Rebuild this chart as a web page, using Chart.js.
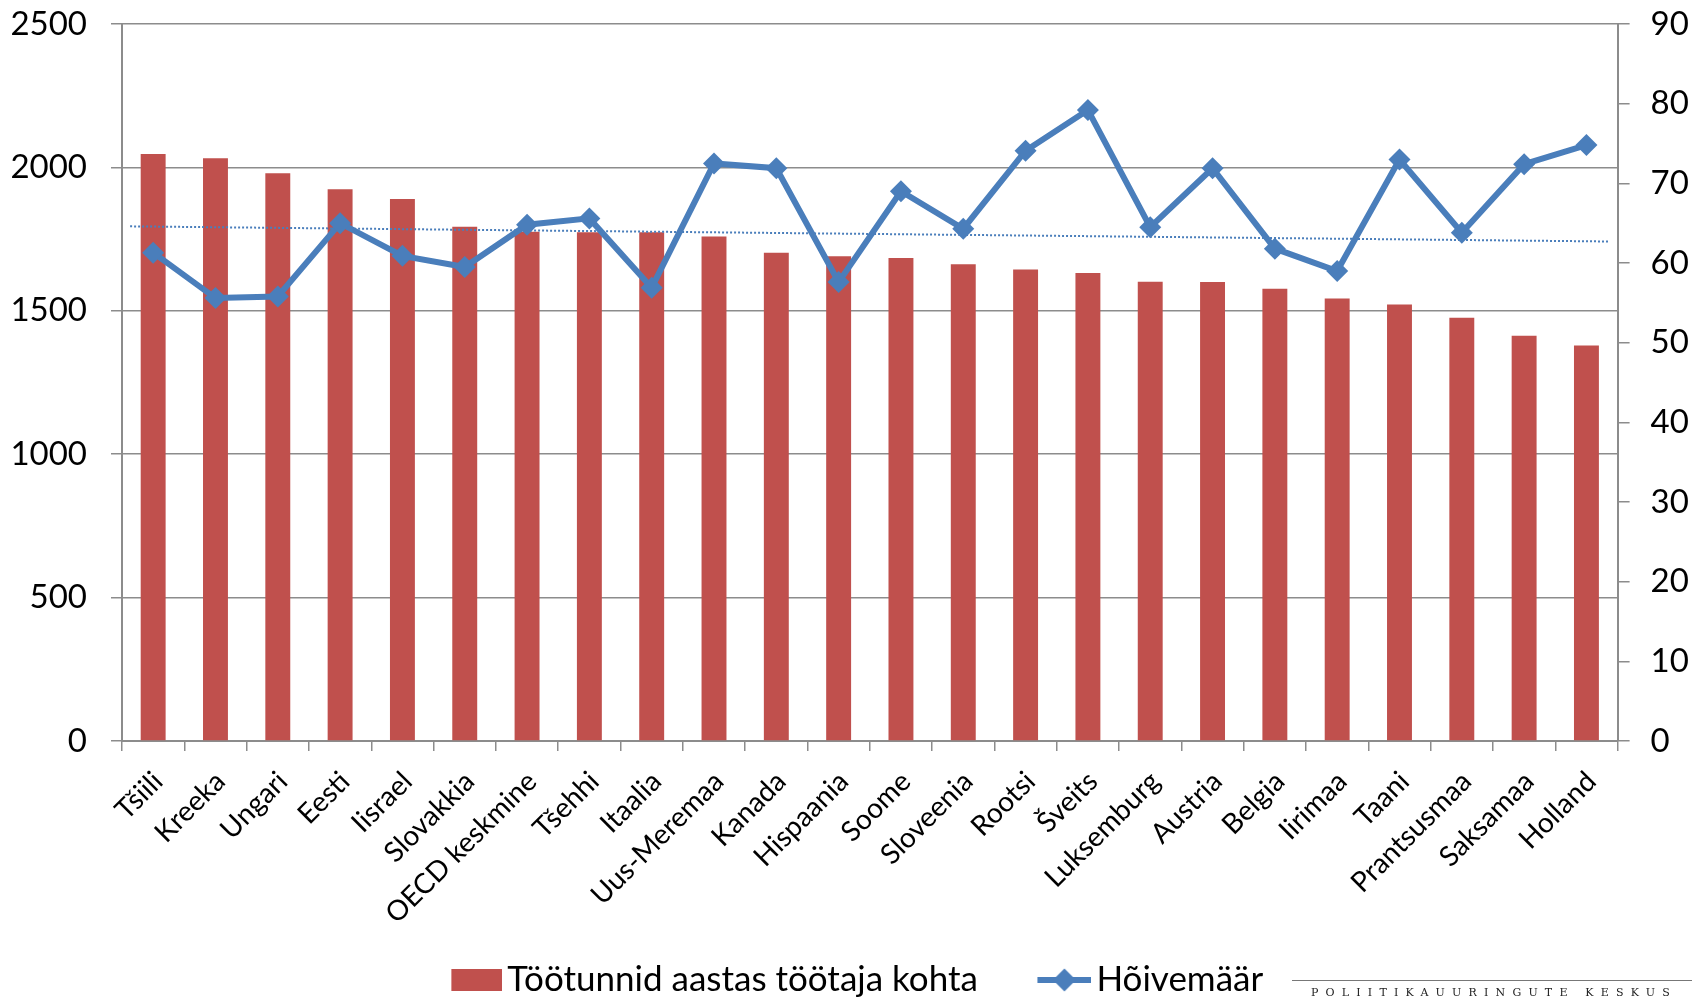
<!DOCTYPE html>
<html>
<head>
<meta charset="utf-8">
<script src="https://cdn.jsdelivr.net/npm/chart.js@4.4.1/dist/chart.umd.min.js"></script>
<style>
  html, body { margin: 0; padding: 0; background: #fff; }
  #wrap { position: relative; width: 1692px; height: 997px; overflow: hidden; }
  #brand {
    position: absolute; left: 1292px; top: 980px; width: 400px; height: 20px;
    border-top: 1px solid #777;
    font-family: 'DejaVu Serif', 'Liberation Serif', serif; font-size: 11px;
    letter-spacing: 7.2px; color: #222; padding-left: 19px; padding-top: 5px;
    box-sizing: border-box; white-space: nowrap;
  }
</style>
</head>
<body>
<div id="wrap">
  <canvas id="chart" width="1692" height="997"></canvas>
  <div id="brand">POLIITIKAUURINGUTE KESKUS</div>
</div>
<script>
var countries = ['Tšiili', 'Kreeka', 'Ungari', 'Eesti', 'Iisrael', 'Slovakkia', 'OECD keskmine', 'Tšehhi',
    'Itaalia', 'Uus-Meremaa', 'Kanada', 'Hispaania', 'Soome', 'Sloveenia', 'Rootsi', 'Šveits',
    'Luksemburg', 'Austria', 'Belgia', 'Iirimaa', 'Taani', 'Prantsusmaa', 'Saksamaa', 'Holland']

// töötunnid aastas (vasak telg)
var hours = [2047, 2032, 1980, 1924, 1890, 1793, 1776, 1774,
    1774, 1759, 1702, 1690, 1684, 1662, 1644, 1632,
    1601, 1600, 1577, 1543, 1522, 1476, 1413, 1379]

// hõivemäär % (parem telg)
var employment = [61.3, 55.6, 55.8, 65.0, 60.9, 59.5, 64.8, 65.6,
    56.9, 72.5, 71.9, 57.6, 69.0, 64.3, 74.1, 79.2,
    64.5, 71.9, 61.8, 59.0, 73.0, 63.8, 72.4, 74.8]

// trendijoone otspunktid (kategooria indeks, väärtus)
var trendX = [-0.37, 23.35]
var trendY = [64.6, 62.7]

var leftTicks = [0, 500, 1000, 1500, 2000, 2500]
var rightTicks = [0, 10, 20, 30, 40, 50, 60, 70, 80, 90]

var red = '#C0504D'
var blue = '#4A7EBB'
var gridCol = '#8C8C8C'
var fontFam = 'Lato'

// legend swatches: transparent canvas, visible part on the right side
function barSwatch() {
    var c = document.createElement('canvas')
    c.width = 86; c.height = 24
    var g = c.getContext('2d')
    g.fillStyle = red
    g.fillRect(35, 1, 51, 22)
    return c
}

function lineSwatch() {
    var c = document.createElement('canvas')
    c.width = 86; c.height = 26
    var g = c.getContext('2d')
    g.strokeStyle = blue
    g.lineWidth = 6
    g.beginPath(); g.moveTo(32, 13); g.lineTo(86, 13); g.stroke()
    g.fillStyle = blue
    g.beginPath()
    g.moveTo(59, 1.5); g.lineTo(70.5, 13); g.lineTo(59, 24.5); g.lineTo(47.5, 13)
    g.closePath(); g.fill()
    return c
}

var ctx = document.getElementById('chart')

var myChart = new Chart(ctx, {
    type: 'bar',
    data: {
        labels: countries,
        datasets: [{
            type: 'line',
            label: 'Hõivemäär',
            data: employment,
            yAxisID: 'y1',
            borderColor: blue,
            backgroundColor: blue,
            borderWidth: 6,
            pointStyle: 'rectRot',
            pointRadius: 11,
            pointHoverRadius: 11,
            pointBorderWidth: 0,
            tension: 0,
            order: 0
        },
        {
            type: 'line',
            label: 'trend',
            data: trendX.map((x, i) => ({ x: x, y: trendY[i] })),
            xAxisID: 'xT',
            yAxisID: 'y1',
            borderColor: blue,
            borderWidth: 2,
            borderDash: [2, 2],
            pointRadius: 0,
            order: 1
        },
        {
            label: 'Töötunnid aastas töötaja kohta',
            data: hours,
            yAxisID: 'y',
            backgroundColor: red,
            grouped: false,
            categoryPercentage: 0.5,
            barPercentage: 0.8,
            order: 2
        }]
    },
    options: {
        responsive: false,
        animation: false,
        layout: { padding: { top: 24, bottom: -10.5, left: 0, right: 0 } },
        plugins: {
            tooltip: { enabled: false },
            legend: {
                position: 'bottom',
                labels: {
                    usePointStyle: true,
                    pointStyleWidth: 61,
                    padding: 40,
                    color: '#000',
                    font: { family: fontFam, size: 35 },
                    generateLabels: (chart) => [
                        { text: 'Töötunnid aastas töötaja kohta', pointStyle: barSwatch(), fillStyle: red, strokeStyle: red, lineWidth: 0, fontColor: '#000', datasetIndex: 2 },
                        { text: 'Hõivemäär', pointStyle: lineSwatch(), fillStyle: blue, strokeStyle: blue, lineWidth: 0, fontColor: '#000', datasetIndex: 0 }
                    ]
                }
            }
        },
        scales: {
            x: {
                offset: true,
                grid: { offset: true, drawOnChartArea: false, drawTicks: true, tickLength: 10, color: gridCol, lineWidth: 1.5 },
                border: { color: gridCol, width: 2 },
                ticks: {
                    autoSkip: false, maxRotation: 45, minRotation: 45,
                    labelOffset: 5, padding: 14, color: '#000',
                    font: { family: fontFam, size: 28 }
                },
                afterFit: (s) => { s.height = 181.5; s.paddingLeft = 0; s.paddingRight = 0 }
            },
            xT: {
                type: 'linear', min: -0.5, max: 23.5, offset: false,
                ticks: { display: false },
                grid: { display: false, drawTicks: false, offset: false },
                border: { display: false },
                afterFit: (s) => { s.height = 0; s.paddingLeft = 0; s.paddingRight = 0 }
            },
            y: {
                position: 'left',
                min: leftTicks[0],
                max: leftTicks[leftTicks.length - 1],
                afterBuildTicks: (s) => { s.ticks = leftTicks.map(v => ({ value: v })) },
                ticks: { padding: 24, color: '#000', font: { family: fontFam, size: 33 }, callback: (v) => String(v) },
                grid: { color: gridCol, lineWidth: 1.5, tickLength: 11 },
                border: { color: gridCol, width: 2 },
                afterFit: (s) => { s.width = 122; s.paddingTop = 0; s.paddingBottom = 0 }
            },
            y1: {
                position: 'right',
                min: rightTicks[0],
                max: rightTicks[rightTicks.length - 1],
                afterBuildTicks: (s) => { s.ticks = rightTicks.map(v => ({ value: v })) },
                ticks: { padding: 21, color: '#000', font: { family: fontFam, size: 33 }, callback: (v) => String(v) },
                grid: { drawOnChartArea: false, color: gridCol, lineWidth: 1.5, tickLength: 12 },
                border: { color: gridCol, width: 2 },
                afterFit: (s) => { s.width = 74.4; s.paddingTop = 0; s.paddingBottom = 0 }
            }
        }
    }
})
</script>
</body>
</html>
